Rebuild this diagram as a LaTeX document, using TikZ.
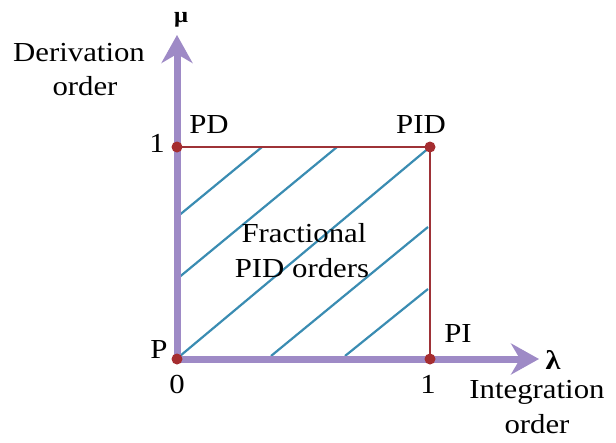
\documentclass[tikz,border=0pt]{standalone}
\usepackage{fontspec}
\setmainfont{Liberation Serif}[FakeStretch=1.12]
\usetikzlibrary{arrows.meta}
\definecolor{axiscol}{RGB}{158,138,198}
\definecolor{edgecol}{RGB}{158,50,55}
\definecolor{dotcol}{RGB}{165,45,48}
\definecolor{hatchcol}{RGB}{58,140,178}
\begin{document}
\begin{tikzpicture}[x=1pt,y=-1pt,
  lbl/.style={font=\fontsize{27.5}{32}\selectfont, inner sep=0pt, anchor=base},
  greek/.style={font=\fontsize{22}{26}\selectfont\bfseries, inner sep=0pt, anchor=base},
  dot/.style={circle, fill=dotcol, minimum size=11pt, inner sep=0pt},
  axis/.style={draw=axiscol, line width=7pt, -{Stealth[length=28pt, width=31pt, inset=9pt, fill=axiscol]}},
  edge/.style={draw=edgecol, line width=2.8pt},
  hatch/.style={draw=hatchcol, line width=2.2pt}]
\useasboundingbox (0,0) rectangle (616,442);
% corners
\coordinate (cP) at (177,359);
\coordinate (cPD) at (177,147);
\coordinate (cPID) at (430,147);
\coordinate (cPI) at (430,359);
\coordinate (muTip) at (177,35);
\coordinate (laTip) at (539,359);
% hatch line end points
\coordinate (h1a) at (177,217); \coordinate (h1b) at (262,147);
\coordinate (h2a) at (177,279); \coordinate (h2b) at (337,147);
\coordinate (h3a) at (180,356);
\coordinate (h4a) at (271,356); \coordinate (h4b) at (428,227);
\coordinate (h5a) at (345,356); \coordinate (h5b) at (428,289);
\draw[hatch] (h1a) -- (h1b);
\draw[hatch] (h2a) -- (h2b);
\draw[hatch] (h3a) -- (cPID);
\draw[hatch] (h4a) -- (h4b);
\draw[hatch] (h5a) -- (h5b);
% square edges
\draw[edge] (cPD) -- (cPID) -- (cPI);
% axes
\draw[axis] (cP) -- (muTip);
\draw[axis] (cP) -- (laTip);
% dots
\node[dot] (P) at (cP) {};
\node[dot] (PD) at (cPD) {};
\node[dot] (PID) at (cPID) {};
\node[dot] (PI) at (cPI) {};
% labels
\node[greek] (mu) at (181,22) {μ};
\node[greek, font=\fontsize{27}{30}\selectfont\bfseries] (la) at (553,369) {λ};
\node[lbl] (der) at (79,61) {Derivation};
\node[lbl] (dero) at (85,95) {order};
\node[lbl] (int) at (537,398) {Integration};
\node[lbl] (into) at (537,433) {order};
\node[lbl] (one1) at (157,152) {1};
\node[lbl] (pdl) at (209,133) {PD};
\node[lbl] (pidl) at (421,133) {PID};
\node[lbl] (pl) at (159,358) {P};
\node[lbl] (zero) at (177,393) {0};
\node[lbl] (one2) at (428,393) {1};
\node[lbl] (pil) at (458,342) {PI};
\node[lbl] (fr) at (304,242) {Fractional};
\node[lbl] (fr2) at (302,277) {PID orders};
\end{tikzpicture}
\end{document}
